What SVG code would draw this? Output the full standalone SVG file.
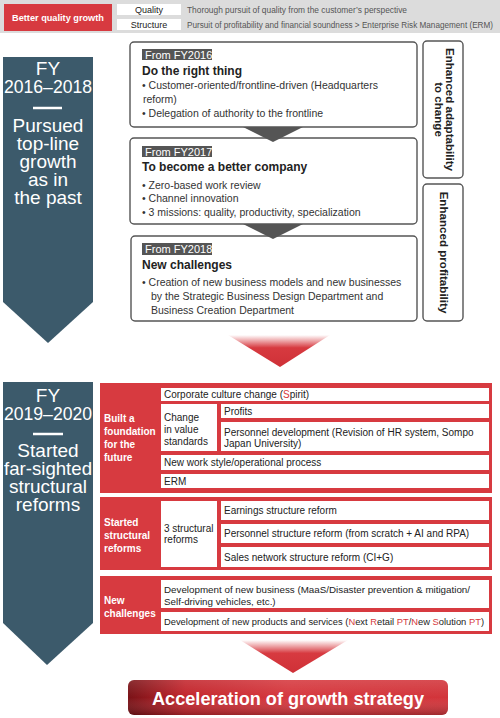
<svg xmlns="http://www.w3.org/2000/svg" width="500" height="718" viewBox="0 0 500 718">
<defs>
<style>
text{font-family:"Liberation Sans",Arial,sans-serif}
.teal{fill:#3c5a6b}
.tw{fill:#fff;font-size:19px;text-anchor:middle}
.box{fill:#fff;stroke:#555;stroke-width:1.4}
.lab{fill:#555}
.labt{fill:#fff;font-size:11px}
.hd{fill:#222;font-size:12px;font-weight:bold}
.bt{fill:#333;font-size:10.5px}
.vt{fill:#222;font-size:11.6px;font-weight:bold;text-anchor:middle}
.red{fill:#d73a40}
.cell{fill:#fff}
.ct{fill:#222;font-size:10px}
.ct2{fill:#222;font-size:9.8px}
.ct3{fill:#222;font-size:9.35px}
.rl{fill:#fff;font-size:10px;font-weight:bold}
.r{fill:#d73a40}
.dk{fill:#555}
</style>
<linearGradient id="ra" x1="0" y1="0" x2="0" y2="1">
<stop offset="0" stop-color="#d73a40" stop-opacity="0"/>
<stop offset="0.4" stop-color="#d73a40"/>
<stop offset="1" stop-color="#cf3037"/>
</linearGradient>
<linearGradient id="fb" x1="0" y1="0" x2="1" y2="0">
<stop offset="0" stop-color="#7a1217"/>
<stop offset="0.18" stop-color="#c3262d"/>
<stop offset="0.5" stop-color="#d6383e"/>
<stop offset="1" stop-color="#d2343a"/>
</linearGradient>
<linearGradient id="fv" x1="0" y1="0" x2="0" y2="1">
<stop offset="0" stop-color="#fff" stop-opacity="0.12"/>
<stop offset="0.5" stop-color="#fff" stop-opacity="0"/>
<stop offset="1" stop-color="#000" stop-opacity="0.25"/>
</linearGradient>
</defs>
<rect width="500" height="718" fill="#fff"/>

<g id="banner">
<rect x="0" y="0" width="500" height="33" fill="#dcdcdc"/>
<rect x="4" y="4" width="108" height="27" class="red"/>
<text x="58" y="21" fill="#fff" font-size="9.2" font-weight="bold" text-anchor="middle">Better quality growth</text>
<rect x="117" y="4" width="64" height="11" fill="#fff"/>
<rect x="117" y="19" width="64" height="11" fill="#fff"/>
<text x="149" y="13" fill="#222" font-size="9" text-anchor="middle">Quality</text>
<text x="149" y="28" fill="#222" font-size="9" text-anchor="middle">Structure</text>
<text x="187" y="13" fill="#555" font-size="8.6" textLength="220" lengthAdjust="spacingAndGlyphs">Thorough pursuit of quality from the customer’s perspective</text>
<text x="187" y="28" fill="#555" font-size="8.4" textLength="306" lengthAdjust="spacingAndGlyphs">Pursuit of profitability and financial soundness &gt; Enterprise Risk Management (ERM)</text>
</g>

<g id="period1">
<polygon class="teal" points="3,57 93,57 93,302 48,343 3,302"/>
<text class="tw" x="48" y="75">FY</text>
<text class="tw" x="48" y="93" textLength="88" lengthAdjust="spacingAndGlyphs">2016–2018</text>
<line x1="33" y1="108" x2="62" y2="108" stroke="#fff" stroke-width="2.5"/>
<text class="tw" x="48" y="132">Pursued</text>
<text class="tw" x="48" y="150">top-line</text>
<text class="tw" x="48" y="168">growth</text>
<text class="tw" x="48" y="186">as in</text>
<text class="tw" x="48" y="204">the past</text>
</g>

<g id="fy2016">
<rect class="box" x="130" y="42" width="287" height="85" rx="4"/>
<rect class="lab" x="142" y="49" width="70" height="11"/>
<text class="labt" x="145" y="58.5">From FY2016</text>
<text class="hd" x="142" y="75">Do the right thing</text>
<text class="bt" x="142" y="89">• Customer-oriented/frontline-driven (Headquarters</text>
<text class="bt" x="143" y="103">reform)</text>
<text class="bt" x="142" y="117">• Delegation of authority to the frontline</text>
</g>

<g id="fy2017">
<rect class="box" x="130" y="138" width="287" height="86" rx="4"/>
<rect class="lab" x="142" y="146" width="70" height="11"/>
<text class="labt" x="145" y="155.5">From FY2017</text>
<text class="hd" x="142" y="171">To become a better company</text>
<text class="bt" x="142" y="189">• Zero-based work review</text>
<text class="bt" x="142" y="202">• Channel innovation</text>
<text class="bt" x="142" y="216">• 3 missions: quality, productivity, specialization</text>
</g>

<g id="fy2018">
<rect class="box" x="131" y="236" width="286" height="85" rx="4"/>
<rect class="lab" x="142" y="243" width="70" height="12"/>
<text class="labt" x="145" y="253">From FY2018</text>
<text class="hd" x="142" y="269">New challenges</text>
<text class="bt" x="142" y="286">• Creation of new business models and new businesses</text>
<text class="bt" x="151" y="300">by the Strategic Business Design Department and</text>
<text class="bt" x="151" y="314">Business Creation Department</text>
</g>

<g id="adaptability">
<rect class="box" x="423" y="41" width="40" height="137" rx="4"/>
<text class="vt" transform="translate(445.5,109.5) rotate(90)">Enhanced adaptability</text>
<text class="vt" transform="translate(434.5,109.5) rotate(90)">to change</text>
</g>

<g id="profitability">
<rect class="box" x="423" y="184" width="40" height="137" rx="4"/>
<text class="vt" transform="translate(440,252.5) rotate(90)">Enhanced profitability</text>
</g>

<g id="period2">
<polygon class="teal" points="3,382 93,382 93,623 47,665 3,623"/>
<text class="tw" x="48" y="402">FY</text>
<text class="tw" x="48" y="420" textLength="88" lengthAdjust="spacingAndGlyphs">2019–2020</text>
<line x1="33" y1="434" x2="63" y2="434" stroke="#fff" stroke-width="2.5"/>
<text class="tw" x="48" y="457">Started</text>
<text class="tw" x="48" y="475" textLength="88" lengthAdjust="spacingAndGlyphs">far-sighted</text>
<text class="tw" x="48" y="493">structural</text>
<text class="tw" x="48" y="511">reforms</text>
</g>

<g id="foundation">
<rect class="red" x="100" y="383" width="392" height="110"/>
<text class="rl" x="104" y="422">Built a</text>
<text class="rl" x="104" y="435">foundation</text>
<text class="rl" x="104" y="448">for the</text>
<text class="rl" x="104" y="461">future</text>
<rect class="cell" x="161" y="388" width="328" height="13"/>
<text class="ct" x="164" y="398">Corporate culture change (<tspan class="r">S</tspan>pirit)</text>
<rect class="cell" x="161" y="404" width="56" height="47"/>
<text class="ct" x="164" y="421">Change</text>
<text class="ct" x="164" y="433">in value</text>
<text class="ct" x="164" y="445">standards</text>
<rect class="cell" x="221" y="404" width="268" height="14"/>
<text class="ct" x="224" y="414.5">Profits</text>
<rect class="cell" x="221" y="422" width="268" height="29"/>
<text class="ct" x="224" y="436">Personnel development (Revision of HR system, Sompo</text>
<text class="ct" x="224" y="447">Japan University)</text>
<rect class="cell" x="161" y="455" width="328" height="15"/>
<text class="ct" x="164" y="466">New work style/operational process</text>
<rect class="cell" x="161" y="474" width="328" height="14"/>
<text class="ct" x="164" y="485">ERM</text>
</g>

<g id="structural">
<rect class="red" x="100" y="497" width="392" height="73"/>
<text class="rl" x="104" y="526">Started</text>
<text class="rl" x="104" y="539">structural</text>
<text class="rl" x="104" y="552">reforms</text>
<rect class="cell" x="161" y="501" width="56" height="66"/>
<text class="ct" x="164" y="532">3 structural</text>
<text class="ct" x="164" y="543">reforms</text>
<rect class="cell" x="221" y="501" width="268" height="19"/>
<text class="ct" x="224" y="514">Earnings structure reform</text>
<rect class="cell" x="221" y="524" width="268" height="19"/>
<text class="ct" x="224" y="537">Personnel structure reform (from scratch + AI and RPA)</text>
<rect class="cell" x="221" y="547" width="268" height="20"/>
<text class="ct" x="224" y="561">Sales network structure reform (CI+G)</text>
</g>

<g id="newchallenges">
<rect class="red" x="100" y="576" width="392" height="58"/>
<text class="rl" x="104" y="604">New</text>
<text class="rl" x="104" y="617">challenges</text>
<rect class="cell" x="161" y="580" width="328" height="28"/>
<text class="ct2" x="164" y="593">Development of new business (MaaS/Disaster prevention &amp; mitigation/</text>
<text class="ct2" x="164" y="605">Self-driving vehicles, etc.)</text>
<rect class="cell" x="161" y="612" width="328" height="19"/>
<text class="ct3" x="164" y="625">Development of new products and services (<tspan class="r">N</tspan>ext <tspan class="r">R</tspan>etail <tspan class="r">PT</tspan>/<tspan class="r">N</tspan>ew <tspan class="r">S</tspan>olution <tspan class="r">PT</tspan>)</text>
</g>

<g id="acceleration">
<rect x="128" y="680" width="320" height="35" rx="6" fill="url(#fb)"/>
<rect x="128" y="680" width="320" height="35" rx="6" fill="url(#fv)"/>
<text x="288" y="705" fill="#fff" font-size="19" font-weight="bold" text-anchor="middle" textLength="272" lengthAdjust="spacingAndGlyphs">Acceleration of growth strategy</text>
</g>

<g id="connectors">
<polygon class="dk" points="243,127 303,127 273,142"/>
<polygon class="dk" points="243,224 303,224 273,239"/>
<polygon fill="url(#ra)" points="228,335 330,335 280,367"/>
<polygon fill="url(#ra)" points="240,640 348,640 293,673"/>
</g>
</svg>
